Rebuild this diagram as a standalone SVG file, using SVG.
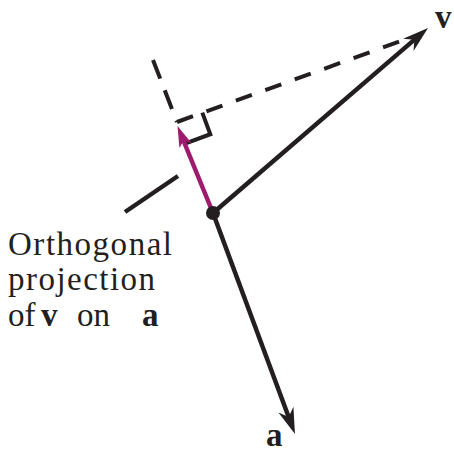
<svg xmlns="http://www.w3.org/2000/svg" width="454" height="452" viewBox="0 0 454 452">
<style>
.ln{stroke:#231f20;stroke-width:4.5;fill:none}
.ds{stroke:#231f20;stroke-width:4;fill:none}
.mg{stroke:#9e1a6e;stroke-width:4.5;fill:none}
text{font-family:'Liberation Serif','Times New Roman',Times,serif;fill:#231f20}
.bd{font-weight:bold}
</style>
<defs>
<marker id="ah" markerUnits="userSpaceOnUse" markerWidth="30" markerHeight="20" viewBox="0 -10 30 20" refX="10" refY="0" orient="auto" overflow="visible">
<path d="M26,0 L0,-8 L8,0 L0,8 Z" fill="#231f20"/>
</marker>
<marker id="ahm" markerUnits="userSpaceOnUse" markerWidth="24" markerHeight="16" viewBox="0 -8 24 16" refX="7" refY="0" orient="auto" overflow="visible">
<path d="M21,0 L0,-6.5 L5,0 L0,6.5 Z" fill="#9e1a6e"/>
</marker>
</defs>
<g id="connectors">
<path class="ds" d="M177,122 L412,37" stroke-dasharray="17 14.3"/>
<path class="ds" d="M153,60 L177,122" stroke-dasharray="20 12.5"/>
<path class="ds" d="M202.3,112.6 L210.3,134.2 L185,143.6" stroke-linejoin="miter"/>
<path class="ln" d="M125,212 L178,176"/>
<path class="ln" d="M213,213 L415.9,38.4" marker-end="url(#ah)"/>
<path class="ln" d="M213,213 L289.4,419" marker-end="url(#ah)"/>
<path class="mg" d="M213,213 L182.8,139" marker-end="url(#ahm)"/>
</g>
<g id="origin">
<circle cx="213" cy="213" r="7" fill="#231f20"/>
</g>
<g id="label-v">
<text class="bd" x="435" y="28" font-size="33">v</text>
</g>
<g id="label-a">
<text class="bd" x="266" y="446" font-size="33">a</text>
</g>
<g id="label-projection">
<text x="8" y="255" font-size="33" textLength="164" lengthAdjust="spacing">Orthogonal</text>
<text x="8" y="290" font-size="33" textLength="147" lengthAdjust="spacing">projection</text>
<text font-size="33" y="326"><tspan x="8">of</tspan><tspan class="bd" x="41">v</tspan><tspan x="77">on</tspan><tspan class="bd" x="142">a</tspan></text>
</g>
</svg>
